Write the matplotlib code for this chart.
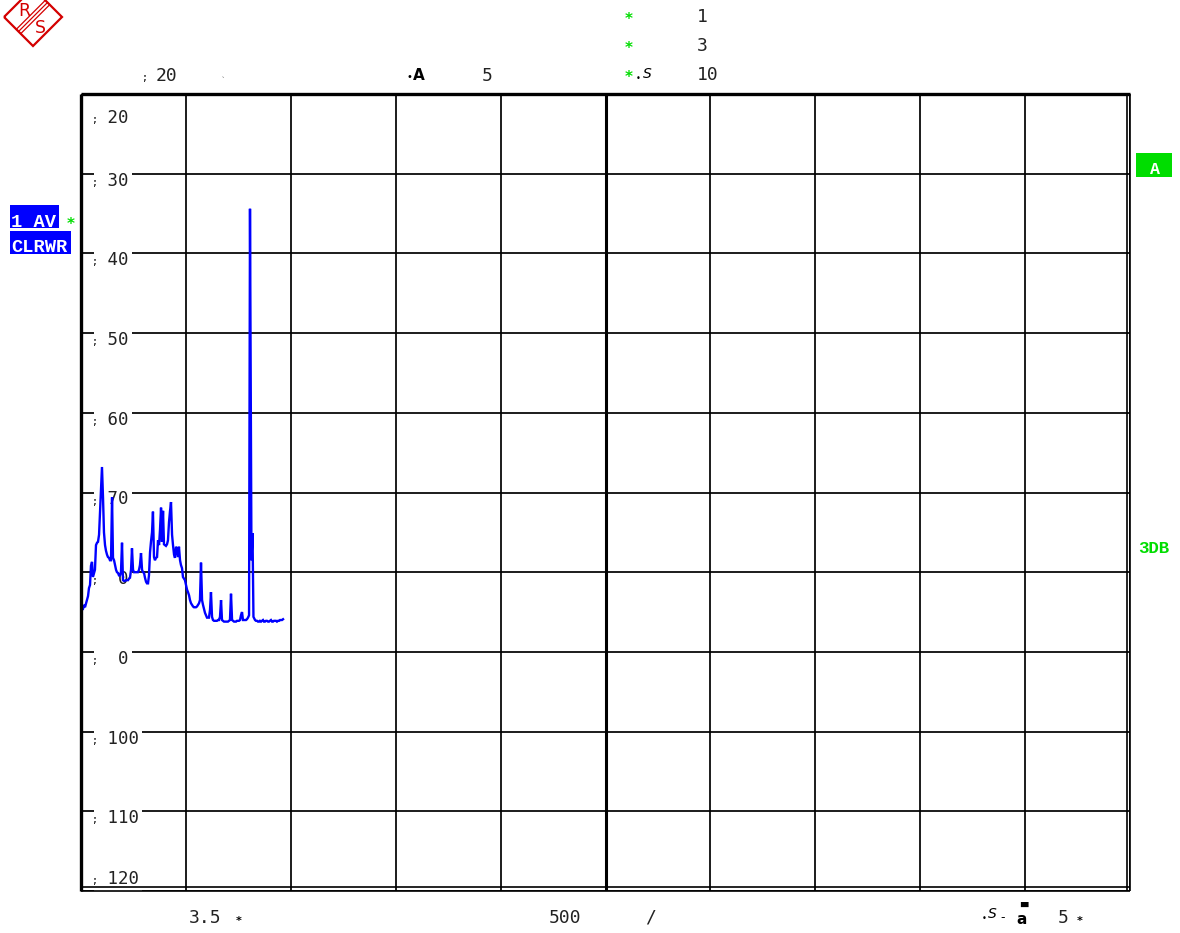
import matplotlib
matplotlib.use("Agg")
import matplotlib.pyplot as plt
from matplotlib import transforms
from matplotlib.patches import Rectangle, Polygon

# ---- trace data (frequency / level) ----
freq_mhz = [
    1.9, 2.9, 3.8, 4.8, 5.7, 6.7, 7.6, 8.6, 9.5, 10.5, 11.4, 12.4, 13.3, 14.3, 15.3,
    16.2, 17.2, 18.1, 19.1, 20.0, 21.0, 21.9, 22.9, 23.8, 24.8, 25.7, 26.7, 27.6, 28.6,
    29.6, 30.5, 31.5, 32.4, 33.4, 34.3, 35.3, 36.2, 37.2, 38.1, 39.1, 40.0, 41.0, 41.9,
    42.9, 43.9, 44.8, 45.8, 46.7, 47.7, 48.6, 49.6, 50.5, 51.5, 52.4, 53.4, 54.3, 55.3,
    56.2, 57.2, 58.2, 59.1, 60.1, 61.0, 62.0, 62.9, 63.9, 64.8, 65.8, 66.7, 67.7, 68.6,
    69.6, 70.5, 71.5, 72.5, 73.4, 74.4, 75.3, 76.3, 77.2, 78.2, 79.1, 80.1, 81.0, 82.0,
    82.9, 83.9, 84.8, 85.8, 86.8, 87.7, 88.7, 89.6, 90.6, 91.5, 92.5, 93.4, 94.4, 95.3,
    96.3, 97.2, 98.2, 99.1, 100.1, 101.1, 102.0, 103.0, 103.9, 104.9, 105.8, 106.8,
    107.7, 108.7, 109.6, 110.6, 111.5, 112.5, 113.4, 114.4, 115.4, 116.3, 117.3, 118.2,
    119.2, 120.1, 121.1, 122.0, 123.0, 123.9, 124.9, 125.8, 126.8, 127.7, 128.7, 129.6,
    130.6, 131.6, 132.5, 133.5, 134.4, 135.4, 136.3, 137.3, 138.2, 139.2, 140.1, 141.1,
    142.0, 143.0, 144.0, 144.9, 145.9, 146.8, 147.8, 148.7, 149.7, 150.6, 151.6, 152.5,
    153.5, 154.4, 155.4, 156.3, 157.3, 158.2, 159.2, 160.2, 161.1, 162.5, 163.5, 164.4,
    165.9, 166.8, 167.8, 168.7, 169.7, 170.6, 171.6, 172.5, 173.5, 174.4, 175.4, 176.3,
    177.3, 178.3, 179.2, 180.2, 181.1, 182.1, 183.0, 184.0, 184.9, 185.9, 186.8, 187.8,
    188.8, 189.7, 190.7, 191.6, 192.6,
]
level_db = [
    -84.6, -84.1, -84.4, -83.9, -83.5, -83.0, -82.0, -81.6, -79.2, -78.7, -80.6, -80.1, -79.7, -76.6, -76.3,
    -76.2, -75.3, -72.6, -69.6, -66.8, -70.7, -75.0, -76.6, -77.3, -77.8, -78.1, -78.2, -78.5, -78.5,
    -70.6, -78.2, -78.5, -79.1, -79.7, -80.0, -80.1, -80.4, -80.4, -80.0, -76.3, -81.0, -81.1, -81.1,
    -81.0, -81.0, -81.0, -80.8, -80.7, -79.7, -77.0, -79.7, -80.0, -80.0, -80.0, -80.0, -80.0, -79.7,
    -79.1, -77.6, -79.7, -80.0, -80.1, -80.7, -81.2, -81.4, -81.4, -80.4, -77.5, -76.2, -75.0, -72.4,
    -78.1, -78.5, -78.2, -78.1, -76.0, -76.6, -74.7, -71.9, -76.2, -72.3, -76.5, -76.6, -76.7, -76.5,
    -76.0, -73.7, -72.4, -71.2, -75.3, -76.6, -77.8, -78.2, -76.8, -77.2, -78.1, -76.8, -78.5, -79.1,
    -79.5, -80.6, -80.8, -81.0, -81.6, -82.2, -82.5, -82.9, -83.5, -83.9, -84.1, -84.3,
    -84.4, -84.4, -84.4, -84.3, -84.1, -83.9, -83.5, -78.8, -83.5, -84.1, -84.6, -85.1,
    -85.4, -85.7, -85.7, -85.7, -84.7, -82.5, -85.6, -86.0, -86.1, -86.1, -86.1, -86.1,
    -86.0, -86.0, -85.6, -83.5, -86.0, -86.1, -86.2, -86.2, -86.2, -86.2, -86.2, -86.1,
    -86.0, -82.7, -86.0, -86.1, -86.2, -86.2, -86.2, -86.1, -86.1, -86.1, -86.0, -85.4,
    -85.0, -86.0, -86.0, -86.0, -86.0, -85.9, -85.7, -85.4, -34.4, -78.5, -75.1, -85.6,
    -86.0, -86.1, -86.1, -86.2, -86.2, -86.1, -86.2, -86.1, -86.0, -86.2, -86.2, -86.1,
    -86.1, -86.2, -86.2, -86.1, -86.0, -86.2, -86.2, -86.1, -86.1, -86.1, -86.2, -86.1,
    -86.1, -86.0, -86.0, -86.0, -85.9,
]

# ---- axis settings and labels ----
x_start, x_stop, x_div = 0, 1000, 100
ref_level, bottom_level, db_div = -20, -120, 10
grid_levels = list(range(ref_level, bottom_level - 1, -db_div))
y_tick_text = ["20", "30", "40", "50", "60", "70", " 0", " 0", "100", "110", "120"]

W, H = 1180, 933
BLUE = "#0000ff"
GREEN = "#00dd00"
RED = "#d40000"
MONO = "DejaVu Sans Mono"
CMONO = "Liberation Mono"

fig = plt.figure(figsize=(W / 100, H / 100), dpi=100, facecolor="white")

# main measurement screen
left, right, top, bottom = 81, 1130, 94, 891
ax = fig.add_axes([left / W, 1 - bottom / H, (right - left) / W, (bottom - top) / H])
ax.set_xlim(x_start, x_stop)
ax.set_ylim(bottom_level, ref_level)
ax.set_xticks(range(x_start, x_stop + 1, x_div))
ax.set_yticks(grid_levels)
ax.tick_params(length=0, labelbottom=False, labelleft=False)
ax.set_axisbelow(True)
ax.grid(True, color="black", lw=1.25)
for s in ax.spines.values():
    s.set_visible(False)

# frame: heavy left/top edges, doubled right/bottom edges, heavy centre line
frame_kw = dict(color="black", transform=ax.transAxes, clip_on=False,
                solid_capstyle="butt", zorder=4)
ax.plot([0, 0], [0, 1], lw=2.4, **frame_kw)
ax.plot([0, 1], [1, 1], lw=2.4, **frame_kw)
ax.plot([0, 1], [0, 0], lw=1.2, **frame_kw)
ax.plot([0, 1], [4 / 797, 4 / 797], lw=1.2, **frame_kw)
ax.plot([1, 1], [0, 1], lw=1.2, **frame_kw)
ax.plot([1 - 3 / 1049, 1 - 3 / 1049], [0, 1], lw=1.2, **frame_kw)
ax.axvline((x_start + x_stop) / 2, color="black", lw=2.2, zorder=1)

# level labels inside the left edge
base_tf = transforms.blended_transform_factory(ax.transAxes, ax.transData)
for lvl, txt in zip(grid_levels, y_tick_text):
    if lvl == ref_level:
        dy = -29
    elif lvl == bottom_level:
        dy = 7
    else:
        dy = -12
    tf_num = transforms.offset_copy(base_tf, fig=fig, x=16, y=dy, units="dots")
    tf_mark = transforms.offset_copy(base_tf, fig=fig, x=10, y=dy, units="dots")
    ax.text(0, lvl, " " + txt, transform=tf_num, family=MONO, fontsize=12.5,
            va="baseline", ha="left", color="#222222", zorder=2,
            bbox=dict(boxstyle="square,pad=0.2", fc="white", ec="none"))
    ax.text(0, lvl, ";", transform=tf_mark, family=MONO, fontsize=7,
            va="baseline", ha="left", color="black", zorder=2,
            bbox=dict(boxstyle="square,pad=0.3", fc="white", ec="none"))

# spectrum trace
ax.plot(freq_mhz, level_db, color=BLUE, lw=1.7, zorder=3, solid_joinstyle="miter")

# ---- annotations around the screen (pixel coordinates) ----
ov = fig.add_axes([0, 0, 1, 1], zorder=5)
ov.set_xlim(0, W)
ov.set_ylim(H, 0)
ov.axis("off")

# R&S logo
ov.add_patch(Polygon([(4, 17), (33, 46), (62, 17), (33, -12)], closed=True,
                     fill=False, ec=RED, lw=1.6, clip_on=False))
for off in (-2.2, 0, 2.2):
    ov.plot([18.5 + off, 47.5 + off], [31.5 + off, 2.5 + off], color=RED, lw=0.9)
ov.text(24.5, 15.5, "R", color=RED, fontsize=12.5, ha="center", va="baseline", family="DejaVu Sans")
ov.text(40.5, 33, "S", color=RED, fontsize=12.5, ha="center", va="baseline", family="DejaVu Sans")

txt_kw = dict(family=MONO, fontsize=13, color="#222222", va="baseline")
ov.text(141, 81, ";", family=MONO, fontsize=7, color="black", va="baseline")
ov.text(156, 81, "20", ha="left", **txt_kw)
ov.text(221, 84, "`", family=MONO, fontsize=6, color="0.45", va="baseline")
ov.text(407, 80, "•", family="DejaVu Sans", fontsize=7, color="black", va="baseline")
ov.text(413, 80, "A", family="DejaVu Sans", fontsize=11, fontweight="bold", color="black", va="baseline")
ov.text(482, 81, "5", ha="left", **txt_kw)

for yb, num in ((24, "1"), (53, "3"), (82, "10")):
    ov.text(629, yb, "*", color=GREEN, fontsize=11, fontweight="bold",
            family="DejaVu Sans", ha="center", va="baseline")
    ov.text(697, yb - 2, num, ha="left", **txt_kw)
ov.text(636, 81, "•", family="DejaVu Sans", fontsize=6, color="black", va="baseline")
ov.text(643, 78, "S", family="DejaVu Sans", fontsize=10, style="italic", color="black", va="baseline")

# trace status boxes
ov.add_patch(Rectangle((10, 205), 49, 23, color=BLUE, lw=0))
ov.add_patch(Rectangle((10, 231), 61, 23, color=BLUE, lw=0))
ov.text(11, 227, "1 AV", family=CMONO, fontsize=13.5, fontweight="bold", color="white", va="baseline")
ov.text(11, 252, "CLRWR", family=CMONO, fontsize=13.5, fontweight="bold", color="white", va="baseline")
ov.text(71, 229, "*", color=GREEN, fontsize=11, fontweight="bold", family="DejaVu Sans",
        ha="center", va="baseline")

# right-hand indicators
ov.add_patch(Rectangle((1136, 153), 36, 24, color=GREEN, lw=0))
ov.text(1155, 174, "A", family=CMONO, fontsize=12, fontweight="bold", color="white",
        ha="center", va="baseline")
ov.text(1138, 553, "3DB", family=CMONO, fontsize=12.5, fontweight="bold", color=GREEN, va="baseline")

# frequency annotations below the screen
ov.text(189, 923, "3.5", ha="left", **txt_kw)
ov.text(236, 924, "*", family="DejaVu Sans", fontsize=8, fontweight="bold", color="black", va="baseline")
ov.text(549, 923, "500", ha="left", **txt_kw)
ov.text(645, 923, "/", ha="left", **txt_kw)
ov.text(982, 921, "•", family="DejaVu Sans", fontsize=6, color="black", va="baseline")
ov.text(988, 918, "S", family="DejaVu Sans", fontsize=10, style="italic", color="black", va="baseline")
ov.text(1000, 921, "-", family="DejaVu Sans", fontsize=9, color="black", va="baseline")
ov.text(1016, 924, "a", family="DejaVu Sans", fontsize=11, fontweight="bold", color="black", va="baseline")
ov.text(1020, 910, "▀", family="DejaVu Sans", fontsize=7, color="black", va="baseline")
ov.text(1058, 923, "5", ha="left", **txt_kw)
ov.text(1077, 924, "*", family="DejaVu Sans", fontsize=8, fontweight="bold", color="black", va="baseline")

fig.savefig("out.png", dpi=100, facecolor="white")
